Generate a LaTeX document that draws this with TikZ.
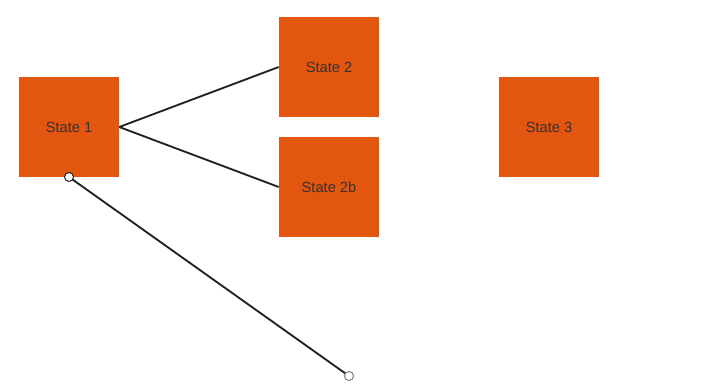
\documentclass[tikz,border=0pt]{standalone}
\usepackage{fontspec}
\setmainfont{Liberation Sans}
\definecolor{stfill}{HTML}{E2560F}
\definecolor{sttext}{HTML}{333333}
\definecolor{edge}{HTML}{222222}
\begin{document}
\begin{tikzpicture}[x=0.75pt,y=-0.75pt,
  statebox/.style={fill=stfill,draw=none,minimum width=75pt,minimum height=75pt,inner sep=0pt,text=sttext,font=\fontsize{11}{13}\selectfont},
  conn/.style={draw=edge,line width=1.4pt},
  endpt/.style={circle,draw=edge,fill=white,line width=0.75pt,minimum size=6.75pt,inner sep=0pt},
  endptgray/.style={circle,draw=gray,fill=white,line width=0.75pt,minimum size=6.75pt,inner sep=0pt}]
\useasboundingbox (0,0) rectangle (713,389);
\node[statebox] (s1) at (69,127) {\raisebox{-1.2pt}{State 1}};
\node[statebox] (s2) at (329,67) {\raisebox{-1.2pt}{State 2}};
\node[statebox] (s2b) at (329,187) {\raisebox{-1.2pt}{State 2b}};
\node[statebox] (s3) at (549,127) {\raisebox{-1.2pt}{State 3}};
\draw[conn] (s1.east) -- (s2.west);
\draw[conn] (s1.east) -- (s2b.west);
\coordinate (a) at (69,177);
\coordinate (b) at (349,376);
\draw[conn] (a) -- (b);
\node[endpt] (ca) at (a) {};
\node[endptgray] (cb) at (b) {};
\end{tikzpicture}
\end{document}
